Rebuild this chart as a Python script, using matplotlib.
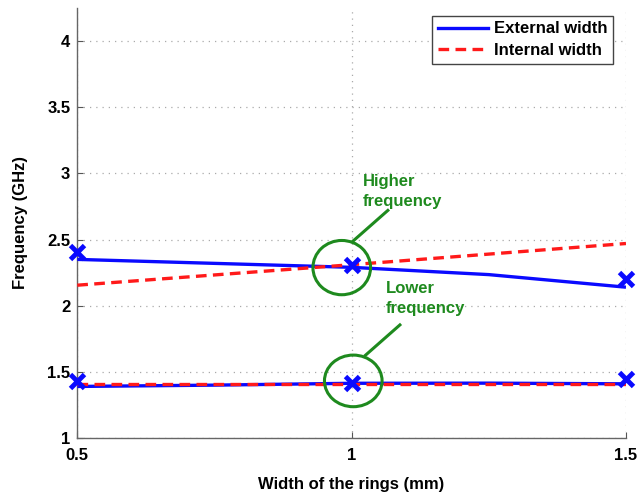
import matplotlib
matplotlib.use("Agg")
import matplotlib.pyplot as plt
from matplotlib.patches import Ellipse
from matplotlib.lines import Line2D

plt.rcParams['font.family'] = ['Liberation Sans', 'DejaVu Sans']
plt.rcParams['font.weight'] = 'bold'

# Ring width (mm)
width_mm = [0.5, 1.0, 1.5]
width_fine = [0.5, 0.75, 1.0, 1.25, 1.5]

# External width: simulated curves (upper and lower resonance)
ext_upper_line = [2.35, 2.32, 2.29, 2.235, 2.14]
ext_lower_line = [1.39, 1.40, 1.414, 1.415, 1.41]
# External width: measured points
ext_upper_pts = [2.405, 2.305, 2.20]
ext_lower_pts = [1.43, 1.415, 1.45]

# Internal width curves
int_upper_line = [2.155, 2.31, 2.47]
int_lower_line = [1.41, 1.41, 1.41]

x_ticks = [0.5, 1, 1.5]
x_tick_labels = ['0.5', '1', '1.5']
y_ticks = [1, 1.5, 2, 2.5, 3, 3.5, 4]
y_tick_labels = ['1', '1.5', '2', '2.5', '3', '3.5', '4']

blue = '#0a0aff'
red = '#ff1a1a'
green = '#1e8a1e'
dash = (0, (3.2, 1.9))

fig = plt.figure(figsize=(6.44, 4.95), dpi=100)
ax = fig.add_axes([0.120, 0.115, 0.852, 0.869])

ax.plot(width_fine, ext_upper_line, color=blue, lw=2.4, solid_capstyle='butt', zorder=3)
ax.plot(width_fine, ext_lower_line, color=blue, lw=2.4, solid_capstyle='butt', zorder=3)
ax.plot(width_mm, int_upper_line, color=red, lw=2.4, ls=dash, zorder=4)
ax.plot(width_mm, int_lower_line, color=red, lw=2.4, ls=dash, zorder=4)
ax.plot(width_mm, ext_upper_pts, ls='none', marker='x', ms=10, mew=3.5,
        color=blue, zorder=5, clip_on=False)
ax.plot(width_mm, ext_lower_pts, ls='none', marker='x', ms=10, mew=3.5,
        color=blue, zorder=5, clip_on=False)

# Highlight circles and callouts
ax.add_patch(Ellipse((0.982, 2.288), 0.105, 0.41, fill=False, ec=green, lw=2.2, zorder=6))
ax.add_patch(Ellipse((1.003, 1.432), 0.105, 0.39, fill=False, ec=green, lw=2.2, zorder=6))
ax.plot([1.003, 1.066], [2.49, 2.72], color=green, lw=2.2, zorder=6)
ax.plot([1.025, 1.088], [1.625, 1.855], color=green, lw=2.2, zorder=6)
ax.text(1.021, 2.864, 'Higher\nfrequency', color=green, fontsize=12, fontweight='bold',
        ha='left', va='center', linespacing=1.45)
ax.text(1.062, 2.053, 'Lower\nfrequency', color=green, fontsize=12, fontweight='bold',
        ha='left', va='center', linespacing=1.45)

ax.set_xlim(0.5, 1.5)
ax.set_ylim(1, 4.25)
ax.set_xticks(x_ticks)
ax.set_xticklabels(x_tick_labels)
ax.set_yticks(y_ticks)
ax.set_yticklabels(y_tick_labels)
ax.tick_params(direction='in', length=4, width=0.8, labelsize=12, colors='#555555',
               labelcolor='black', top=False, right=False)
ax.tick_params(axis='x', pad=7)
ax.tick_params(axis='y', pad=5)
for lab in ax.get_xticklabels() + ax.get_yticklabels():
    lab.set_fontweight('bold')
ax.grid(True, ls=(0, (1, 4)), color='#aaaaaa', lw=0.9)
ax.spines['top'].set_visible(False)
ax.spines['right'].set_visible(False)
for s in ('left', 'bottom'):
    ax.spines[s].set_color('#666666')
    ax.spines[s].set_linewidth(1.0)

ax.set_xlabel('Width of the rings (mm)', fontsize=12, fontweight='bold', labelpad=10)
ax.set_ylabel('Frequency (GHz)', fontsize=12, fontweight='bold', labelpad=14)

handles = [Line2D([], [], color=blue, lw=2.4),
           Line2D([], [], color=red, lw=2.4, ls=dash)]
leg = ax.legend(handles, ['External width', 'Internal width'], loc='upper right',
                bbox_to_anchor=(0.977, 0.982), fontsize=12, fancybox=False,
                framealpha=1, edgecolor='#444444', handlelength=3.0,
                handletextpad=0.35, borderpad=0.35, labelspacing=0.4,
                borderaxespad=0.0)
leg.get_frame().set_linewidth(1.0)
for t in leg.get_texts():
    t.set_fontweight('bold')

fig.savefig('out.png', dpi=100)
